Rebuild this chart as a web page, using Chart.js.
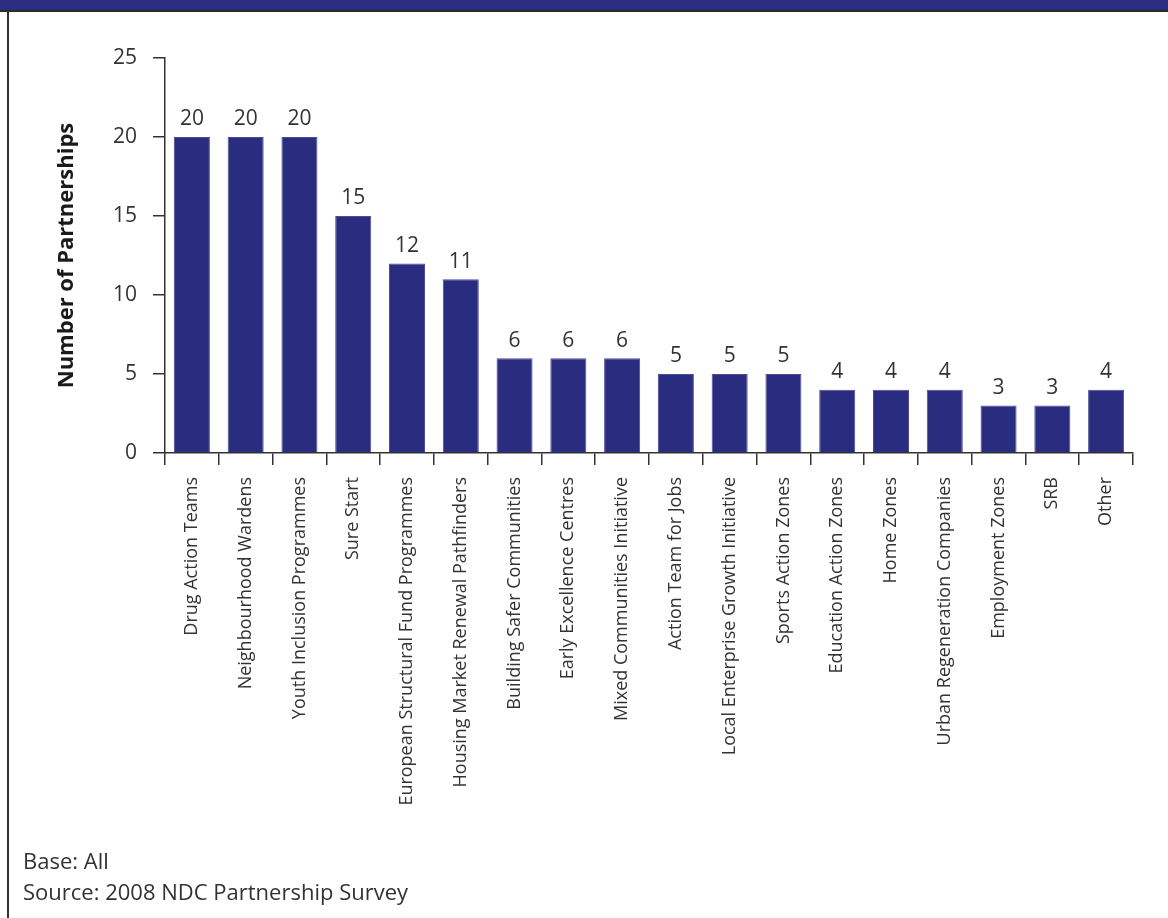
<!DOCTYPE html>
<html>
<head>
<meta charset="utf-8">
<script src="https://cdn.jsdelivr.net/npm/chart.js@4"></script>
<style>
  html, body { margin: 0; padding: 0; background: #fff; }
  body { width: 1168px; height: 918px; position: relative; overflow: hidden; font-family: "Open Sans", sans-serif; }
  .banda { position: absolute; left: 0; top: 0; width: 1168px; height: 10px; background: #2a2d80; border-bottom: 2px solid #2b2b2b; }
  .marco { position: absolute; left: 7px; top: 10px; width: 0; height: 908px; border-left: 2px solid #333; }
  .nota { position: absolute; left: 23px; font-size: 22px; color: #333; line-height: 1; }
  #lienzo { position: absolute; left: 0; top: 0; }
</style>
</head>
<body>
<div class="banda"></div>
<div class="marco"></div>
<canvas id="lienzo" width="1168" height="918"></canvas>
<div class="nota" style="top: 849px;">Base: All</div>
<div class="nota" style="top: 880px;">Source: 2008 NDC Partnership Survey</div>

<script>
// Programas y número de partnerships
const programas = [
    "Drug Action Teams",
    "Neighbourhood Wardens",
    "Youth Inclusion Programmes",
    "Sure Start",
    "European Structural Fund Programmes",
    "Housing Market Renewal Pathfinders",
    "Building Safer Communities",
    "Early Excellence Centres",
    "Mixed Communities Initiative",
    "Action Team for Jobs",
    "Local Enterprise Growth Initiative",
    "Sports Action Zones",
    "Education Action Zones",
    "Home Zones",
    "Urban Regeneration Companies",
    "Employment Zones",
    "SRB",
    "Other"
];
const partnerships = [20, 20, 20, 15, 12, 11, 6, 6, 6, 5, 5, 5, 4, 4, 4, 3, 3, 4];
const ticksY = [0, 5, 10, 15, 20, 25];

const colorTexto = "#333333";
const colorBarra = "#2a2c80";

// Etiquetas de valor encima de cada barra
const etiquetasValor = {
    id: "etiquetasValor",
    afterDatasetsDraw(chart) {
        const ctx = chart.ctx;
        const meta = chart.getDatasetMeta(0);
        ctx.save();
        ctx.font = "21px 'Open Sans', sans-serif";
        ctx.fillStyle = colorTexto;
        ctx.textAlign = "center";
        ctx.textBaseline = "bottom";
        meta.data.forEach((barra, i) => {
            ctx.fillText(String(partnerships[i]), barra.x, barra.y - 7);
        });
        ctx.restore();
    }
};

new Chart(document.getElementById("lienzo"), {
    type: "bar",
    data: {
        labels: programas,
        datasets: [{
            label: "Number of Partnerships",
            data: partnerships,
            backgroundColor: colorBarra,
            borderColor: "#4a4c98",
            borderWidth: 1,
            barPercentage: 0.67,
            categoryPercentage: 1
        }]
    },
    options: {
        responsive: false,
        animation: false,
        layout: { padding: { top: 58, right: 35, left: 0, bottom: 0 } },
        plugins: {
            legend: { display: false },
            tooltip: { enabled: false }
        },
        scales: {
            x: {
                offset: true,
                grid: {
                    offset: true,
                    drawOnChartArea: false,
                    drawTicks: true,
                    tickLength: 12,
                    color: colorTexto,
                    lineWidth: 1.5
                },
                border: { color: colorTexto, width: 1.5 },
                ticks: {
                    autoSkip: false,
                    minRotation: 90,
                    maxRotation: 90,
                    padding: 12,
                    color: colorTexto,
                    font: { family: "'Open Sans', sans-serif", size: 18 }
                },
                afterFit(scale) { scale.height = 918 - 453; }
            },
            y: {
                min: 0,
                max: 25,
                afterBuildTicks(scale) { scale.ticks = ticksY.map(v => ({ value: v })); },
                grid: {
                    drawOnChartArea: false,
                    drawTicks: true,
                    tickLength: 12,
                    color: colorTexto,
                    lineWidth: 1.5
                },
                border: { color: colorTexto, width: 1.5 },
                ticks: {
                    padding: 16,
                    color: colorTexto,
                    font: { family: "'Open Sans', sans-serif", size: 21 }
                },
                title: {
                    display: true,
                    text: "Number of Partnerships",
                    color: "#1a1a1a",
                    font: { family: "'Open Sans', sans-serif", size: 22, weight: "bold" },
                    padding: { top: 54, bottom: 0 }
                },
                afterFit(scale) { scale.width = 165; }
            }
        }
    },
    plugins: [etiquetasValor]
});
</script>
</body>
</html>
